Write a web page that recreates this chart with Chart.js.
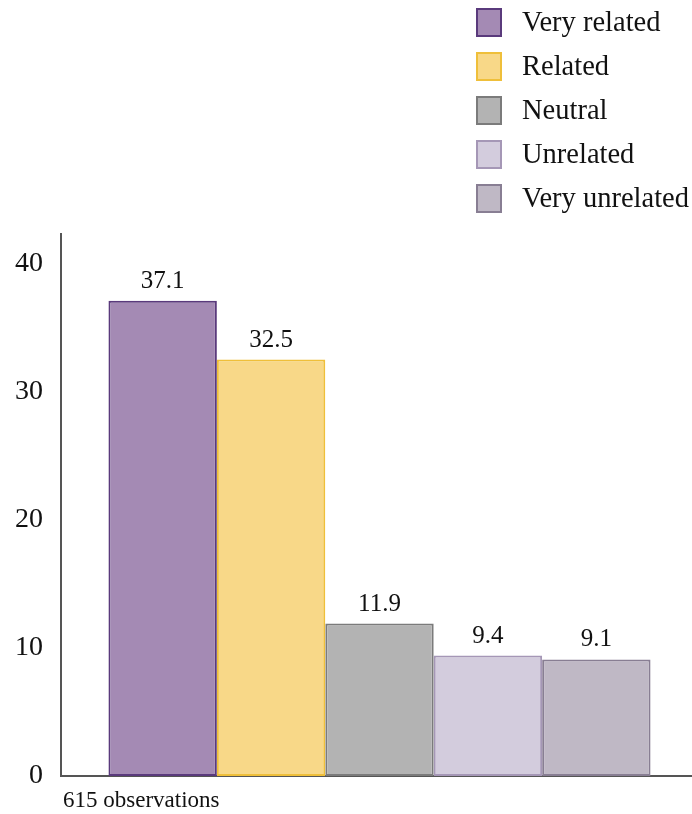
<!DOCTYPE html>
<html>
<head>
<meta charset="utf-8">
<script src="https://cdn.jsdelivr.net/npm/chart.js@4.4.1/dist/chart.umd.min.js"></script>
<style>
  html, body { margin: 0; padding: 0; background: #ffffff; overflow: hidden; }
  #wrap { position: relative; width: 692px; height: 814px; overflow: hidden; }
  #chart { position: absolute; left: 0; top: 0; }
  #legend { position: absolute; left: 476px; top: 0px; font-family: 'Liberation Serif', 'Times New Roman', serif; font-size: 28.5px; color: #111; }
  .item { display: flex; align-items: center; height: 44px; }
  .box { width: 26px; height: 29px; margin-right: 20px; box-sizing: border-box; }
</style>
</head>
<body>
<div id="wrap">
  <canvas id="chart" width="698" height="814"></canvas>
  <div id="legend"></div>
</div>
<script>
// Response categories and their shares (%)
const categories = ['Very related', 'Related', 'Neutral', 'Unrelated', 'Very unrelated'];
const shares = [37.1, 32.5, 11.9, 9.4, 9.1];
const yTicks = [0, 10, 20, 30, 40];
const footnote = '615 observations';

const fills   = ['#a48ab4', '#f8d888', '#b3b3b3', '#d3ccdd', '#bfb8c5'];
const borders = ['#5a3a7c', '#efbf3a', '#7b7b7b', '#a597b6', '#887e93'];

const serif = "'Liberation Serif', 'Times New Roman', serif";

const datasets = categories.map((name, i) => ({
  label: name,
  data: [shares[i]],
  backgroundColor: fills[i],
  borderColor: borders[i],
  borderWidth: 2,
  borderSkipped: false,
  barPercentage: 1,
  categoryPercentage: 0.851
}));

// value labels above each bar + footnote under the axis
const annotate = {
  id: 'annotate',
  afterDatasetsDraw(chart) {
    const ctx = chart.ctx;
    ctx.save();
    ctx.fillStyle = '#111';
    ctx.font = '25px ' + serif;
    ctx.textAlign = 'center';
    ctx.textBaseline = 'alphabetic';
    chart.data.datasets.forEach((ds, i) => {
      const bar = chart.getDatasetMeta(i).data[0];
      ctx.fillText(ds.data[0].toFixed(1), bar.x, bar.y - 13);
    });
    ctx.font = '23px ' + serif;
    ctx.textAlign = 'left';
    ctx.fillText(footnote, chart.chartArea.left + 2, 807);
    ctx.restore();
  }
};

const chart = new Chart(document.getElementById('chart'), {
  type: 'bar',
  data: { labels: [''], datasets },
  options: {
    responsive: false,
    animation: false,
    layout: { padding: { top: 234, bottom: 30, left: 0, right: 0 } },
    plugins: { legend: { display: false }, tooltip: { enabled: false } },
    scales: {
      x: {
        grid: { display: false },
        border: { display: true, color: '#555', width: 2 },
        ticks: { display: false }
      },
      y: {
        min: 0,
        max: 42.3,
        afterBuildTicks(scale) { scale.ticks = yTicks.map(v => ({ value: v })); },
        afterFit(scale) { scale.width = 61; },
        grid: { display: false },
        border: { display: true, color: '#555', width: 2 },
        ticks: { padding: 10, color: '#111', font: { family: serif, size: 28 } }
      }
    }
  },
  plugins: [annotate]
});

// legend list built from the same series
const legend = document.getElementById('legend');
categories.forEach((name, i) => {
  const row = document.createElement('div');
  row.className = 'item';
  const box = document.createElement('span');
  box.className = 'box';
  box.style.background = fills[i];
  box.style.border = '2px solid ' + borders[i];
  const txt = document.createElement('span');
  txt.textContent = name;
  row.appendChild(box);
  row.appendChild(txt);
  legend.appendChild(row);
});
</script>
</body>
</html>
